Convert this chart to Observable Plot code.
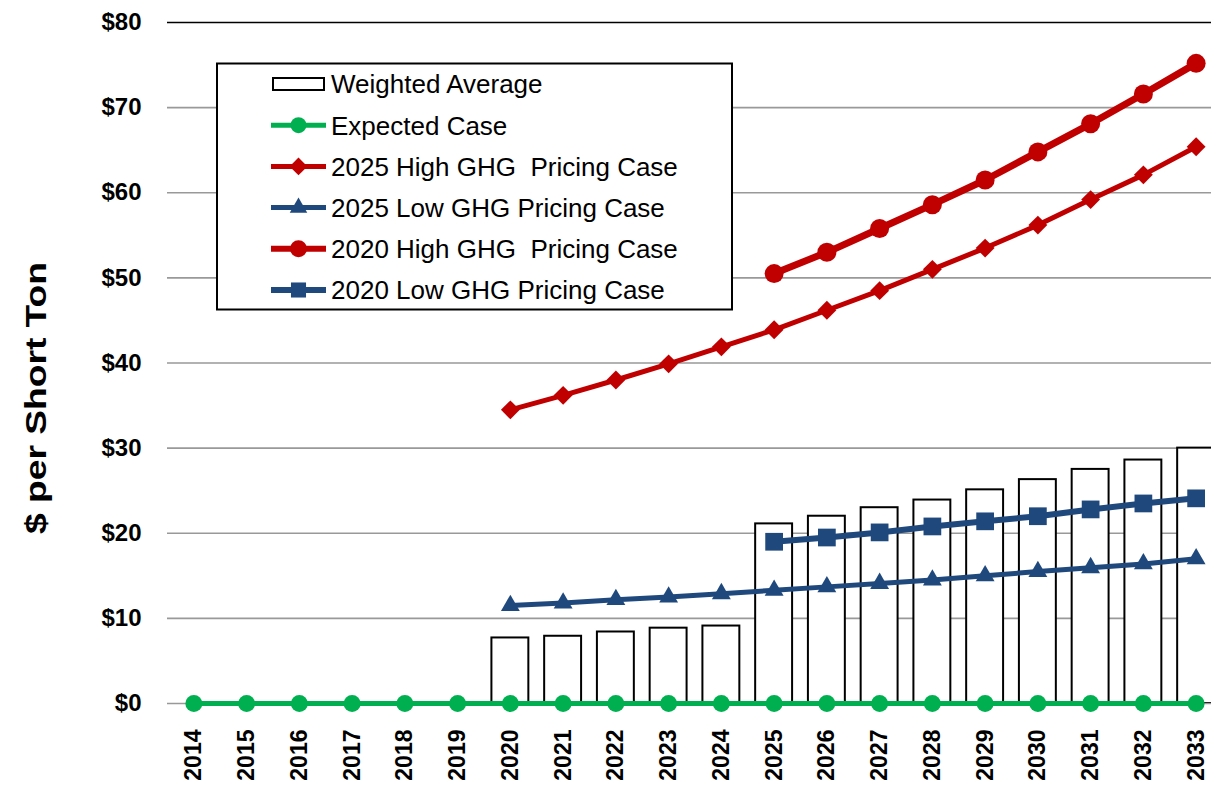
<!DOCTYPE html>
<html>
<head>
<meta charset="utf-8">
<script src="https://cdn.jsdelivr.net/npm/d3@7"></script>
<script src="https://cdn.jsdelivr.net/npm/@observablehq/plot@0.6"></script>
<style>
  html, body { margin: 0; padding: 0; background: #fff; overflow: hidden; }
  #wrap { position: relative; width: 1211px; height: 786px; overflow: hidden; }
  #wrap svg { position: absolute; left: 0; top: 0; max-width: none !important; }
</style>
</head>
<body>
<div id="wrap"></div>
<script>
// ---- Data ----
const years = ["2014","2015","2016","2017","2018","2019","2020","2021","2022","2023","2024","2025","2026","2027","2028","2029","2030","2031","2032","2033"];
const yTicks = [0, 10, 20, 30, 40, 50, 60, 70, 80];

const avgYears = ["2020","2021","2022","2023","2024","2025","2026","2027","2028","2029","2030","2031","2032","2033"];
const weightedAverage = [7.7, 7.9, 8.4, 8.85, 9.1, 21.1, 22.0, 23.0, 23.9, 25.1, 26.3, 27.5, 28.6, 30.0];

const expectedCase = [0,0,0,0,0,0,0,0,0,0,0,0,0,0,0,0,0,0,0,0];

const years2025Case = ["2020","2021","2022","2023","2024","2025","2026","2027","2028","2029","2030","2031","2032","2033"];
const high2025 = [34.5, 36.2, 38.0, 39.9, 41.9, 43.9, 46.2, 48.5, 51.0, 53.5, 56.2, 59.2, 62.1, 65.4];
const low2025  = [11.5, 11.8, 12.2, 12.5, 12.9, 13.3, 13.7, 14.1, 14.5, 15.0, 15.5, 15.95, 16.4, 17.0];

const years2020Case = ["2025","2026","2027","2028","2029","2030","2031","2032","2033"];
const high2020 = [50.5, 53.0, 55.8, 58.6, 61.5, 64.8, 68.1, 71.6, 75.2];
const low2020  = [19.0, 19.5, 20.1, 20.8, 21.4, 22.0, 22.8, 23.5, 24.1];

const seriesNames = ["Weighted Average", "Expected Case", "2025 High GHG  Pricing Case", "2025 Low GHG Pricing Case", "2020 High GHG  Pricing Case", "2020 Low GHG Pricing Case"];
const yTitle = "$ per Short Ton";

// ---- Styles ----
const RED = "#C00000", BLUE = "#1F497D", GREEN = "#00B050";
const FONT = "'Liberation Sans', Arial, sans-serif";

const toRows = (xs, vs) => xs.map((x, i) => ({x, v: vs[i]}));
const avgRows = toRows(avgYears, weightedAverage);
const expRows = toRows(years, expectedCase);
const h25 = toRows(years2025Case, high2025);
const l25 = toRows(years2025Case, low2025);
const h20 = toRows(years2020Case, high2020);
const l20 = toRows(years2020Case, low2020);

const chart = Plot.plot({
  width: 1230,
  height: 786,
  marginLeft: 167,
  marginRight: 8,
  marginTop: 22,
  marginBottom: 83,
  style: {fontFamily: FONT, background: "white", overflow: "visible", maxWidth: "none"},
  x: {type: "band", domain: years, paddingInner: 0.3, paddingOuter: 0.15, round: false, label: null},
  y: {domain: [0, 80], label: null},
  marks: [
    Plot.ruleY(yTicks.filter(d => d > 0 && d < 80), {stroke: "#999", strokeWidth: 1.6}),
    Plot.barY(avgRows, {x: "x", y: "v", fill: "white", stroke: "black", strokeWidth: 2}),
    Plot.ruleY([0], {stroke: "#999", strokeWidth: 1.6}),
    Plot.ruleX([0], {frameAnchor: "left", stroke: "#8c8c8c", strokeWidth: 1.6}),
    Plot.ruleY([80], {stroke: "black", strokeWidth: 1.6}),
    Plot.axisY({ticks: yTicks, tickSize: 0, tickPadding: 26, tickFormat: d => "$" + d,
      fontSize: 24, fontWeight: "bold", fill: "black", label: null}),
    Plot.axisX({tickSize: 0, tickRotate: -90, tickPadding: 26, fontSize: 23, fontWeight: "bold",
      fill: "black", label: null}),
    // lines
    Plot.line(expRows, {x: "x", y: "v", stroke: GREEN, strokeWidth: 5}),
    Plot.dot(expRows, {x: "x", y: "v", fill: GREEN, r: 8.5, symbol: "circle"}),
    Plot.line(l25, {x: "x", y: "v", stroke: BLUE, strokeWidth: 5}),
    Plot.dot(l25, {x: "x", y: "v", fill: BLUE, r: 7, symbol: "triangle"}),
    Plot.line(l20, {x: "x", y: "v", stroke: BLUE, strokeWidth: 6}),
    Plot.dot(l20, {x: "x", y: "v", fill: BLUE, r: 10, symbol: "square"}),
    Plot.line(h25, {x: "x", y: "v", stroke: RED, strokeWidth: 5}),
    Plot.dot(h25, {x: "x", y: "v", fill: RED, r: 8.5, symbol: "diamond2"}),
    Plot.line(h20, {x: "x", y: "v", stroke: RED, strokeWidth: 7}),
    Plot.dot(h20, {x: "x", y: "v", fill: RED, r: 9.5, symbol: "circle"})
  ]
});
chart.style.maxWidth = "none";
document.getElementById("wrap").appendChild(chart);

// ---- Overlay: y title + legend ----
const leg = d3.select("#wrap").append("svg").attr("width", 1211).attr("height", 786)
  .style("pointer-events", "none");
leg.append("text").attr("transform", "translate(46,398) rotate(-90)")
  .attr("text-anchor", "middle").attr("font-family", FONT).attr("font-weight", "bold")
  .attr("font-size", 30).attr("fill", "black")
  .attr("textLength", 272).attr("lengthAdjust", "spacingAndGlyphs").text(yTitle);

const legendSymbols = [null, {c: GREEN, s: d3.symbolCircle, size: Math.PI * 8 * 8, w: 5},
  {c: RED, s: d3.symbolDiamond2, size: Math.PI * 8 * 8, w: 5},
  {c: BLUE, s: d3.symbolTriangle, size: Math.PI * 6.5 * 6.5, w: 5},
  {c: RED, s: d3.symbolCircle, size: Math.PI * 8.5 * 8.5, w: 6},
  {c: BLUE, s: d3.symbolSquare, size: Math.PI * 8.5 * 8.5, w: 6}];
leg.append("rect").attr("x", 217).attr("y", 63.5).attr("width", 515).attr("height", 246)
  .attr("fill", "white").attr("stroke", "black").attr("stroke-width", 2);
const row0 = 84, rowStep = 41.2;
seriesNames.forEach((name, i) => {
  const y = row0 + i * rowStep;
  if (i === 0) {
    leg.append("rect").attr("x", 273).attr("y", y - 6).attr("width", 51).attr("height", 12)
      .attr("fill", "white").attr("stroke", "black").attr("stroke-width", 2);
  } else {
    const s = legendSymbols[i];
    leg.append("line").attr("x1", 271).attr("x2", 326).attr("y1", y).attr("y2", y)
      .attr("stroke", s.c).attr("stroke-width", s.w);
    leg.append("path").attr("d", d3.symbol(s.s, s.size)()).attr("transform", `translate(298.5,${y})`)
      .attr("fill", s.c);
  }
  leg.append("text").attr("x", 331).attr("y", y).attr("dy", "0.36em")
    .attr("font-family", FONT).attr("font-size", 26).attr("fill", "black")
    .style("white-space", "pre").text(name);
});
</script>
</body>
</html>
